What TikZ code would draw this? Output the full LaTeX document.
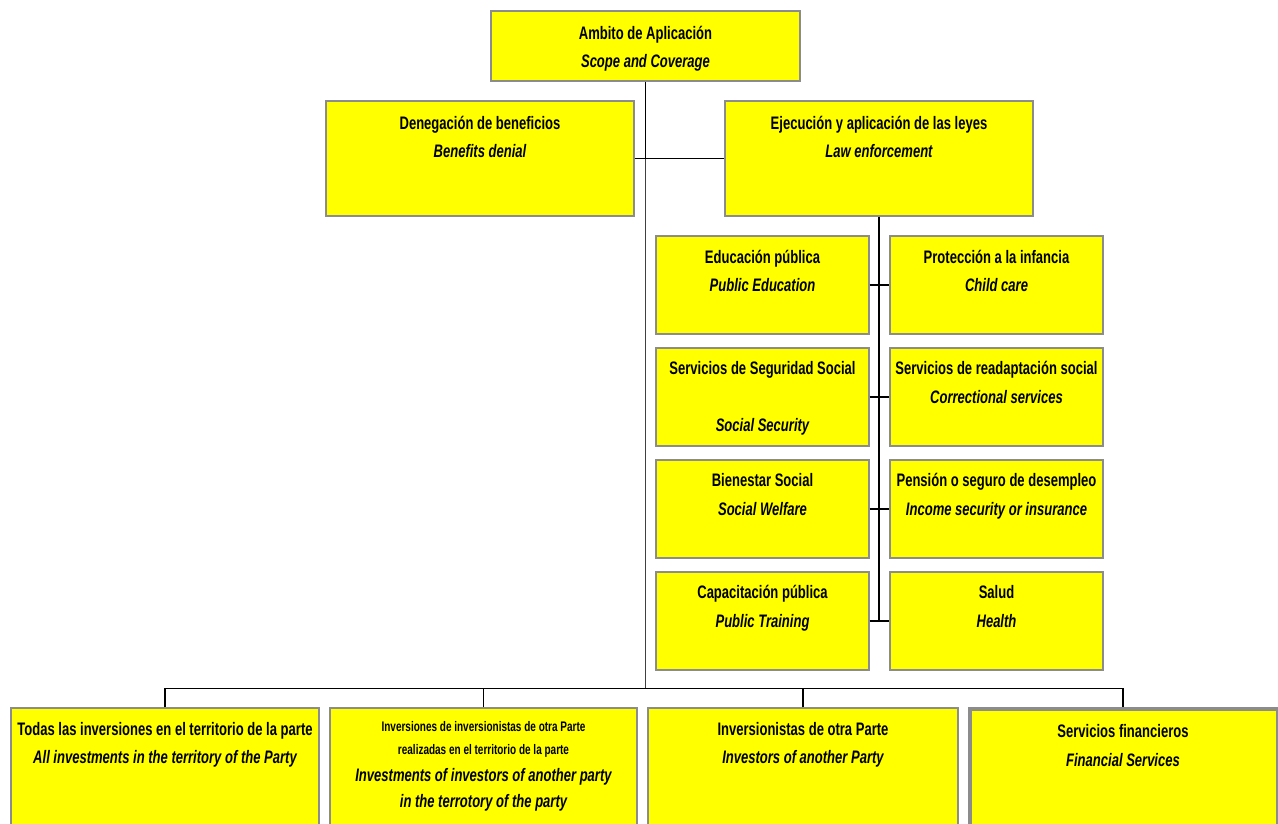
\documentclass[tikz,border=0pt]{standalone}
\usepackage{fontspec}
\setmainfont{Liberation Sans}[FakeStretch=0.72]
\usetikzlibrary{fit}
\definecolor{boxyellow}{HTML}{FFFF00}
\definecolor{boxgrey}{HTML}{8C8C8C}
\definecolor{linegrey}{HTML}{404040}
\tikzset{
  box/.style={draw=boxgrey, line width=0.6pt, fill=boxyellow, inner sep=0pt, rectangle},
  big/.style={anchor=base, inner sep=0pt, font=\fontsize{10.3}{12}\selectfont\bfseries},
  bigit/.style={anchor=base, inner sep=0pt, font=\fontsize{10.3}{12}\selectfont\bfseries\itshape},
  small/.style={anchor=base, inner sep=0pt, font=\fontsize{7.9}{9}\selectfont\bfseries},
  conn/.style={draw=black, line width=0.6pt},
  greyconn/.style={draw=linegrey, line width=0.7pt},
  thickconn/.style={draw=black, line width=0.95pt},
}
\begin{document}
\begin{tikzpicture}[x=0.02cm, y=-0.02cm]
\clip (0,0) rectangle (1278,823);
\fill[white] (0,0) rectangle (1278,823);

% boxes
\node[box, fit={(491,11)(800,81)}] (top) {};
\node[box, fit={(326,101)(634,216)}] (den) {};
\node[box, fit={(725,101)(1033,216)}] (eje) {};
\node[box, fit={(656,236)(869,334)}] (edu) {};
\node[box, fit={(890,236)(1103,334)}] (pro) {};
\node[box, fit={(656,348)(869,446)}] (seg) {};
\node[box, fit={(890,348)(1103,446)}] (rea) {};
\node[box, fit={(656,460)(869,558)}] (bie) {};
\node[box, fit={(890,460)(1103,558)}] (pen) {};
\node[box, fit={(656,572)(869,670)}] (cap) {};
\node[box, fit={(890,572)(1103,670)}] (sal) {};
\node[box, fit={(11,708)(319,840)}] (b1) {};
\node[box, fit={(330,708)(637,840)}] (b2) {};
\node[box, fit={(648,708)(958,840)}] (b3) {};
\node[box, fit={(969,708)(1277,840)}] (b4) {};
\fill[boxgrey] (b4.north west) rectangle ([xshift=0.08cm,yshift=-0.08cm]b4.north east);
\fill[boxgrey] (b4.north west) rectangle ([xshift=0.08cm]b4.south west);

% connectors
\coordinate (mid) at (top.south |- den.east);
\coordinate (bar) at ([yshift=0.38cm]top.south |- b1.north);
\draw[greyconn] (mid) -- (bar);
\draw[thickconn] (top.south) -- (mid);
\draw[conn] (den.east) -- (eje.west);
\draw[conn] (eje.south) -- (eje.south |- sal.west);
\draw[conn] (edu.east) -- (pro.west);
\draw[conn] (seg.east) -- (rea.west);
\draw[conn] (bie.east) -- (pen.west);
\draw[conn] (cap.east) -- (sal.west);
\draw[conn] (b1.north) -- (b1.north |- bar) -- (b4.north |- bar) -- (b4.north);
\draw[conn] (b2.north) -- (b2.north |- bar);
\draw[conn] (b3.north) -- (b3.north |- bar);

% texts
\node[big]   (top1) at (645.5,39) {Ambito de Aplicación};
\node[bigit] (top2) at (645.5,67) {Scope and Coverage};
\node[big]   (den1) at (480,129) {Denegación de beneficios};
\node[bigit] (den2) at (480,157) {Benefits denial};
\node[big]   (eje1) at (879,129) {Ejecución y aplicación de las leyes};
\node[bigit] (eje2) at (879,157) {Law enforcement};
\node[big]   (edu1) at (762.5,263) {Educación pública};
\node[bigit] (edu2) at (762.5,291) {Public Education};
\node[big]   (pro1) at (996.5,263) {Protección a la infancia};
\node[bigit] (pro2) at (996.5,291) {Child care};
\node[big]   (seg1) at (762.5,374) {Servicios de Seguridad Social};
\node[bigit] (seg2) at (762.5,431) {Social Security};
\node[big]   (rea1) at (996.5,374) {Servicios de readaptación social};
\node[bigit] (rea2) at (996.5,403) {Correctional services};
\node[big]   (bie1) at (762.5,486) {Bienestar Social};
\node[bigit] (bie2) at (762.5,515) {Social Welfare};
\node[big]   (pen1) at (996.5,486) {Pensión o seguro de desempleo};
\node[bigit] (pen2) at (996.5,515) {Income security or insurance};
\node[big]   (cap1) at (762.5,598) {Capacitación pública};
\node[bigit] (cap2) at (762.5,627) {Public Training};
\node[big]   (sal1) at (996.5,598) {Salud};
\node[bigit] (sal2) at (996.5,627) {Health};
\node[big]   (b11) at (165,735) {Todas las inversiones en el territorio de la parte};
\node[bigit] (b12) at (165,763) {All investments in the territory of the Party};
\node[small] (b21) at (483.5,731) {Inversiones de inversionistas de otra Parte};
\node[small] (b22) at (483.5,754) {realizadas en el territorio de la parte};
\node[bigit] (b23) at (483.5,781) {Investments of investors of another party};
\node[bigit] (b24) at (483.5,807) {in the terrotory of the party};
\node[big]   (b31) at (803,735) {Inversionistas de otra Parte};
\node[bigit] (b32) at (803,763) {Investors of another Party};
\node[big]   (b41) at (1123,737) {Servicios financieros};
\node[bigit] (b42) at (1123,766) {Financial Services};
\end{tikzpicture}
\end{document}
